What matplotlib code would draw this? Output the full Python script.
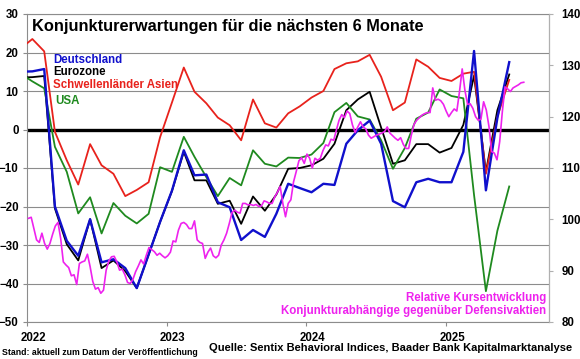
import matplotlib
matplotlib.use("Agg")
import matplotlib.pyplot as plt
import matplotlib.transforms as mtransforms
import pandas as pd

# Sentix expectations, monthly from Dec 2021 to Jun 2025 (plotted mid-month)
months = pd.date_range("2021-12-01", periods=43, freq="MS") + pd.Timedelta(days=14)

deutschland = [15, 15.1, 15.7, -20, -28.9, -32.8, -23.3, -34.5, -33.7, -36, -41.2, -32.5, -24,
               -15.9, -5.4, -11.9, -11.7, -18.9, -20.2, -28.7, -26.1, -27.9, -21.9, -14.1, -15.2,
               -16.3, -14.1, -14.4, -3.7, -0.2, 2.3, -3.7, -18.6, -20.2, -13.7, -12.8, -13.7,
               -13.7, -5.8, 20.4, -15.8, 3, 17.5]
eurozone = [13.5, 13.6, 13.9, -20.5, -29.8, -34, -23.3, -36, -34, -36.8, -41.2, -32.5, -24,
            -16, -5.8, -13.2, -13.2, -19.3, -18.5, -24.5, -17.4, -21.1, -16.9, -10.2, -10,
            -9.3, -7.6, -3.7, 5, 7.8, 9.8, 0.5, -8.9, -8.0, -3.8, -3.8, -6,
            -4.8, 1.2, 14, -11, 5, 14.3]
asien = [21, 23.5, 20.3, -0.6, -8, -14.3, -3.8, -9.3, -11.5, -17.3, -15.7, -13.7, -2,
         7, 16.1, 9.8, 6.8, 3.1, 1.1, -2.8, 7.8, 1.6, 0.5, 4.2, 6,
         8.3, 10, 15.7, 17.2, 17.7, 19.4, 13.7, 5.0, 7, 18.2, 16.3, 13.4,
         12.6, 14.5, 15.0, -11.5, 3.3, 12.9]
usa = [14.5, 12.5, 10.7, -4.5, -11, -21.8, -17.6, -27, -19.1, -22.4, -24.4, -21.9, -9.8,
       -11, -1.9, -7.1, -12.4, -17.3, -12.6, -14.5, -5.4, -8.9, -9.6, -7.3, -7.4,
       -6.5, -3.5, 4.5, 6.9, 3.4, 2.6, -2.8, -10.2, -4.8, 2.8, 4.4, 10.4,
       8.7, 8.1, -17, -42, -26.3, -14.8]

# relative performance cyclicals vs defensives, weekly (right axis)
rel_2022 = [100.2, 100.4, 98.2, 96.0, 95.5, 97.3, 95.3, 94.2, 95.3, 97.1,
            98.7, 99.4, 96.3, 91.7, 91.1, 90.6, 89.0, 89.2, 87.3, 91.4,
            91.7, 91.9, 93.2, 90.8, 87.9, 86.4, 86.7, 85.6, 86.2, 90.1,
            91.9, 92.7, 92.8, 91.7, 90.1, 90.3, 89.2, 87.7, 87.5, 88.3,
            89.8, 90.9, 92.1, 91.3, 93.0, 94.5, 94.1, 93.7, 93.0, 93.4,
            92.9, 92.5]
rel_2023 = [92.9, 93.6, 95.8, 95.6, 97.9, 99.2, 99.4, 99.0, 98.2, 98.2,
            99.7, 96.0, 95.5, 95.3, 92.4, 93.6, 94.4, 92.9, 92.5, 93.0,
            95.0, 96.0, 97.3, 99.2, 101.3, 101.8, 101.4, 101.2, 103.1, 103.1,
            102.8, 102.9, 102.7, 102.9, 102.5, 102.6, 103.6, 103.4, 103.1, 103.1,
            104.4, 105.3, 106.4, 103.1, 100.5, 103.1, 103.8, 107.3, 109.3, 111.4,
            112.0, 110.9]
rel_2024 = [112.7, 111.9, 110.0, 111.9, 111.5, 111.9, 113.4, 114.5, 114.3, 115.6,
            115.4, 117.4, 119.3, 120.4, 119.8, 121.1, 120.6, 118.4, 116.9, 118.0,
            119.0, 118.0, 117.6, 116.4, 115.8, 116.1, 116.4, 116.6, 116.8, 117.1,
            118.0, 116.8, 116.3, 115.8, 115.4, 115.9, 114.6, 113.8, 113.8, 116.4,
            118.5, 119.3, 119.8, 120.3, 120.6, 120.8]
rel_2025 = [120.8, 125.6, 123.2, 123.4, 123.1, 122.4, 121.1, 120.0, 120.8, 121.5,
            121.1, 124.9, 129.3, 125.2, 122.4, 122.5, 121.6, 120.0, 119.3, 119.5,
            122.9, 121.3, 118.1, 113.2, 112.9, 111.6, 115.1, 121.0, 125.8, 125.4,
            124.9, 125.6, 125.9, 126.2, 126.6, 126.7]
rel = rel_2022 + rel_2023 + rel_2024 + rel_2025
weeks = pd.date_range("2022-01-05", periods=len(rel), freq="7D")

years = ["2022", "2023", "2024", "2025"]
left_ticks = [-50, -40, -30, -20, -10, 0, 10, 20, 30]
right_ticks = [80, 90, 100, 110, 120, 130, 140]

W, H = 580, 359
FONT = "Liberation Sans"
plt.rcParams["font.family"] = [FONT, "DejaVu Sans"]
plt.rcParams["font.weight"] = "bold"

fig = plt.figure(figsize=(W / 100, H / 100), dpi=100)
ax = fig.add_axes([27 / W, 1 - 322 / H, (549 - 27) / W, (322 - 14) / H])
grey = "#8c8c8c"

for y in left_ticks:
    ax.axhline(y, color=grey, lw=0.8, zorder=1)
ax.axhline(0, color="black", lw=2.4, zorder=2)

ax.plot(months, eurozone, color="black", lw=1.3, zorder=3)
ax.plot(months, usa, color="#1f8a1f", lw=1.3, zorder=3)
ax.plot(months, asien, color="#e8221c", lw=1.3, zorder=3)
ax.plot(months, deutschland, color="#1010cc", lw=1.7, zorder=4)

ax.set_xlim(pd.Timestamp("2022-01-01"), pd.Timestamp("2025-09-27"))
ax.set_ylim(-50, 30)
ax.set_yticks(left_ticks)
ax.tick_params(axis="y", length=3, width=0.8, color=grey, pad=3, labelsize=8.3)

xt = [pd.Timestamp(y + "-01-01") for y in years]
ax.set_xticks(xt)
ax.set_xticklabels(years)
ax.tick_params(axis="x", length=3, width=0.8, color=grey, pad=4, labelsize=8.3)
off = mtransforms.ScaledTranslation(6 / 100, 0, fig.dpi_scale_trans)
for lab in ax.get_xticklabels():
    lab.set_transform(lab.get_transform() + off)

for s in ax.spines.values():
    s.set_color(grey)
    s.set_linewidth(0.8)

ax2 = ax.twinx()
ax2.plot(weeks, rel, color="#ee22ee", lw=1.2, zorder=5)
ax2.set_ylim(80, 140)
ax2.set_yticks(right_ticks)
ax2.tick_params(axis="y", length=3, width=0.8, color="#b0b0b0", pad=6, labelsize=8.3)
for s in ax2.spines.values():
    s.set_visible(False)
ax2.spines["right"].set_visible(True)
ax2.spines["right"].set_color("#b0b0b0")


def ftext(x, y, s, **kw):
    fig.text(x / W, 1 - y / H, s, va="center", fontweight="bold", **kw)


ftext(31.5, 26.7, "Konjunkturerwartungen für die nächsten 6 Monate", fontsize=11.8)
ftext(53, 60, "Deutschland", color="#1010cc", fontsize=8.3)
ftext(53, 72.3, "Eurozone", color="black", fontsize=8.3)
ftext(53, 85, "Schwellenländer Asien", color="#e8221c", fontsize=8.3)
ftext(55, 100.7, "USA", color="#1f8a1f", fontsize=8.3)
ftext(546.5, 298, "Relative Kursentwicklung", color="#ee22ee", fontsize=8.3, ha="right")
ftext(546.5, 311, "Konjunkturabhängige gegenüber Defensivaktien", color="#ee22ee",
      fontsize=8.3, ha="right")
ftext(1.5, 352.7, "Stand: aktuell zum Datum der Veröffentlichung", fontsize=6.3)
ftext(209, 348.3, "Quelle: Sentix Behavioral Indices, Baader Bank Kapitalmarktanalyse",
      fontsize=8)

fig.savefig("out.png", dpi=100)
